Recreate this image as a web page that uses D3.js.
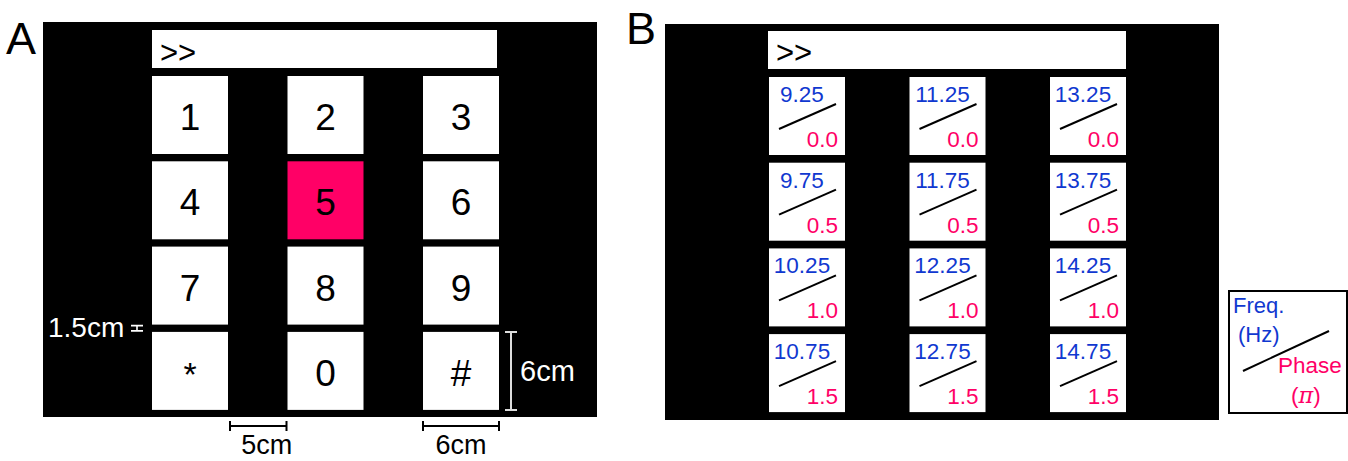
<!DOCTYPE html>
<html>
<head>
<meta charset="utf-8">
<script src="https://cdn.jsdelivr.net/npm/d3@7/dist/d3.min.js"></script>
<style>
  body { margin: 0; background: #fff; }
  text { font-family: "Liberation Sans", Arial, Helvetica, sans-serif; }
</style>
</head>
<body>
<script>
// keypad labels (panel A), row by row
var padKeys = ['1', '2', '3', '4', '5', '6', '7', '8', '9', '*', '0', '#'];
var activeKey = '5';
// SSVEP targets (panel B): frequency in Hz and phase in pi
var freqs = ['9.25', '11.25', '13.25', '9.75', '11.75', '13.75',
             '10.25', '12.25', '14.25', '10.75', '12.75', '14.75'];
var phases = ['0.0', '0.0', '0.0', '0.5', '0.5', '0.5',
              '1.0', '1.0', '1.0', '1.5', '1.5', '1.5'];
var sizeLabels = ['1.5cm', '5cm', '6cm', '6cm'];

var pink = '#ff0066',
    blue = '#1038d0',
    width = 1348,
    height = 461,
    nCols = 3,
    nRows = 4;

var svg = d3.select('body').append('svg')
    .attr('width', width)
    .attr('height', height);

// ---------- panel A ----------
var a = svg.append('g');
a.append('text').attr('x', 6).attr('y', 54).attr('font-size', 45).text('A');
a.append('rect').attr('x', 43).attr('y', 22).attr('width', 554).attr('height', 395).attr('fill', '#000');

var xA = d3.scaleLinear().domain([0, 1]).range([152, 287.5]);
var yA = d3.scaleLinear().domain([0, 1]).range([76, 161.3]);
var keyW = 76, keyH = 78;

a.append('rect').attr('x', 152).attr('y', 30).attr('width', 345).attr('height', 38).attr('fill', '#fff');
a.append('text').attr('x', 160).attr('y', 63).attr('font-size', 31).text('>>');

var keysA = a.selectAll('.keyA').data(padKeys).enter().append('g')
    .attr('class', 'keyA')
    .attr('transform', function(d, i) {
        return 'translate(' + xA(i % nCols) + ',' + yA(Math.floor(i / nCols)) + ')';
    });
keysA.append('rect')
    .attr('width', keyW).attr('height', keyH)
    .attr('fill', function(d) { return d === activeKey ? pink : '#fff'; });
keysA.append('text')
    .attr('x', keyW / 2)
    .attr('y', 54)
    .attr('text-anchor', 'middle')
    .attr('font-size', function(d) { return d === '*' ? 34 : 37; })
    .text(function(d) { return d; });

// size annotations
function hBracket(g, x1, x2, y, color) {
    g.append('path')
        .attr('d', 'M' + x1 + ',' + (y - 5) + 'V' + (y + 5) + 'M' + x1 + ',' + y + 'H' + x2 +
                   'M' + x2 + ',' + (y - 5) + 'V' + (y + 5))
        .attr('stroke', color).attr('stroke-width', 2).attr('fill', 'none');
}
var bot = yA(3) + keyH;
hBracket(a, xA(0) + keyW + 2, xA(1) - 1, 426, '#000');
a.append('text').attr('x', (xA(0) + keyW + xA(1)) / 2 + 9).attr('y', 454)
    .attr('text-anchor', 'middle').attr('font-size', 27).text(sizeLabels[1]);
hBracket(a, xA(2), xA(2) + keyW, 426, '#000');
a.append('text').attr('x', xA(2) + keyW / 2).attr('y', 454)
    .attr('text-anchor', 'middle').attr('font-size', 27).text(sizeLabels[3]);

// vertical 6cm bracket
var vx = xA(2) + keyW + 12;
a.append('path')
    .attr('d', 'M' + (vx - 6) + ',' + yA(3) + 'H' + (vx + 6) + 'M' + vx + ',' + yA(3) + 'V' + bot +
               'M' + (vx - 6) + ',' + bot + 'H' + (vx + 6))
    .attr('stroke', '#ddd').attr('stroke-width', 2).attr('fill', 'none');
a.append('text').attr('x', vx + 9).attr('y', (yA(3) + bot) / 2 + 10)
    .attr('fill', '#fff').attr('font-size', 29).text(sizeLabels[2]);

// 1.5cm gap bracket
var g1 = yA(2) + keyH + 1, g2 = yA(3) - 1;
a.append('path')
    .attr('d', 'M131,' + g1 + 'H143M137,' + g1 + 'V' + g2 + 'M131,' + g2 + 'H143')
    .attr('stroke', '#fff').attr('stroke-width', 1.6).attr('fill', 'none');
a.append('text').attr('x', 48).attr('y', 337)
    .attr('fill', '#fff').attr('font-size', 28).text(sizeLabels[0]);

// ---------- panel B ----------
var b = svg.append('g');
b.append('text').attr('x', 626).attr('y', 44).attr('font-size', 45).text('B');
b.append('rect').attr('x', 665).attr('y', 24).attr('width', 554).attr('height', 396).attr('fill', '#000');
b.append('rect').attr('x', 768).attr('y', 31).attr('width', 358).attr('height', 38).attr('fill', '#fff');
b.append('text').attr('x', 776).attr('y', 63).attr('font-size', 31).text('>>');

var xB = d3.scaleLinear().domain([0, 1]).range([769, 909.5]);
var yB = d3.scaleLinear().domain([0, 1]).range([77, 162.7]);

var keysB = b.selectAll('.keyB').data(freqs).enter().append('g')
    .attr('class', 'keyB')
    .attr('transform', function(d, i) {
        return 'translate(' + xB(i % nCols) + ',' + yB(Math.floor(i / nCols)) + ')';
    });
keysB.append('rect').attr('width', keyW).attr('height', keyH).attr('fill', '#fff');
keysB.append('text')
    .attr('x', 33).attr('y', 25)
    .attr('text-anchor', 'middle')
    .attr('fill', blue).attr('font-size', 22.5)
    .text(function(d) { return d; });
keysB.append('line')
    .attr('x1', 10).attr('y1', 52).attr('x2', 67).attr('y2', 27)
    .attr('stroke', '#000').attr('stroke-width', 2);
keysB.append('text')
    .attr('x', 69).attr('y', 70)
    .attr('text-anchor', 'end')
    .attr('fill', pink).attr('font-size', 22.5)
    .text(function(d, i) { return phases[i]; });

// legend box
var lg = svg.append('g').attr('transform', 'translate(1228,290)');
lg.append('rect').attr('x', 1).attr('y', 1).attr('width', 118).attr('height', 122)
    .attr('fill', '#fff').attr('stroke', '#000').attr('stroke-width', 2);
lg.append('text').attr('x', 5).attr('y', 23).attr('fill', blue).attr('font-size', 22).text('Freq.');
lg.append('text').attr('x', 10).attr('y', 52).attr('fill', blue).attr('font-size', 22).text('(Hz)');
lg.append('line').attr('x1', 15).attr('y1', 81).attr('x2', 101).attr('y2', 41)
    .attr('stroke', '#000').attr('stroke-width', 2);
lg.append('text').attr('x', 50).attr('y', 83).attr('fill', pink).attr('font-size', 22.5).text('Phase');
lg.append('text').attr('x', 63).attr('y', 113).attr('fill', pink).attr('font-size', 22.5)
    .html('(<tspan font-style="italic" font-family="DejaVu Serif">π</tspan>)');
</script>
</body>
</html>
